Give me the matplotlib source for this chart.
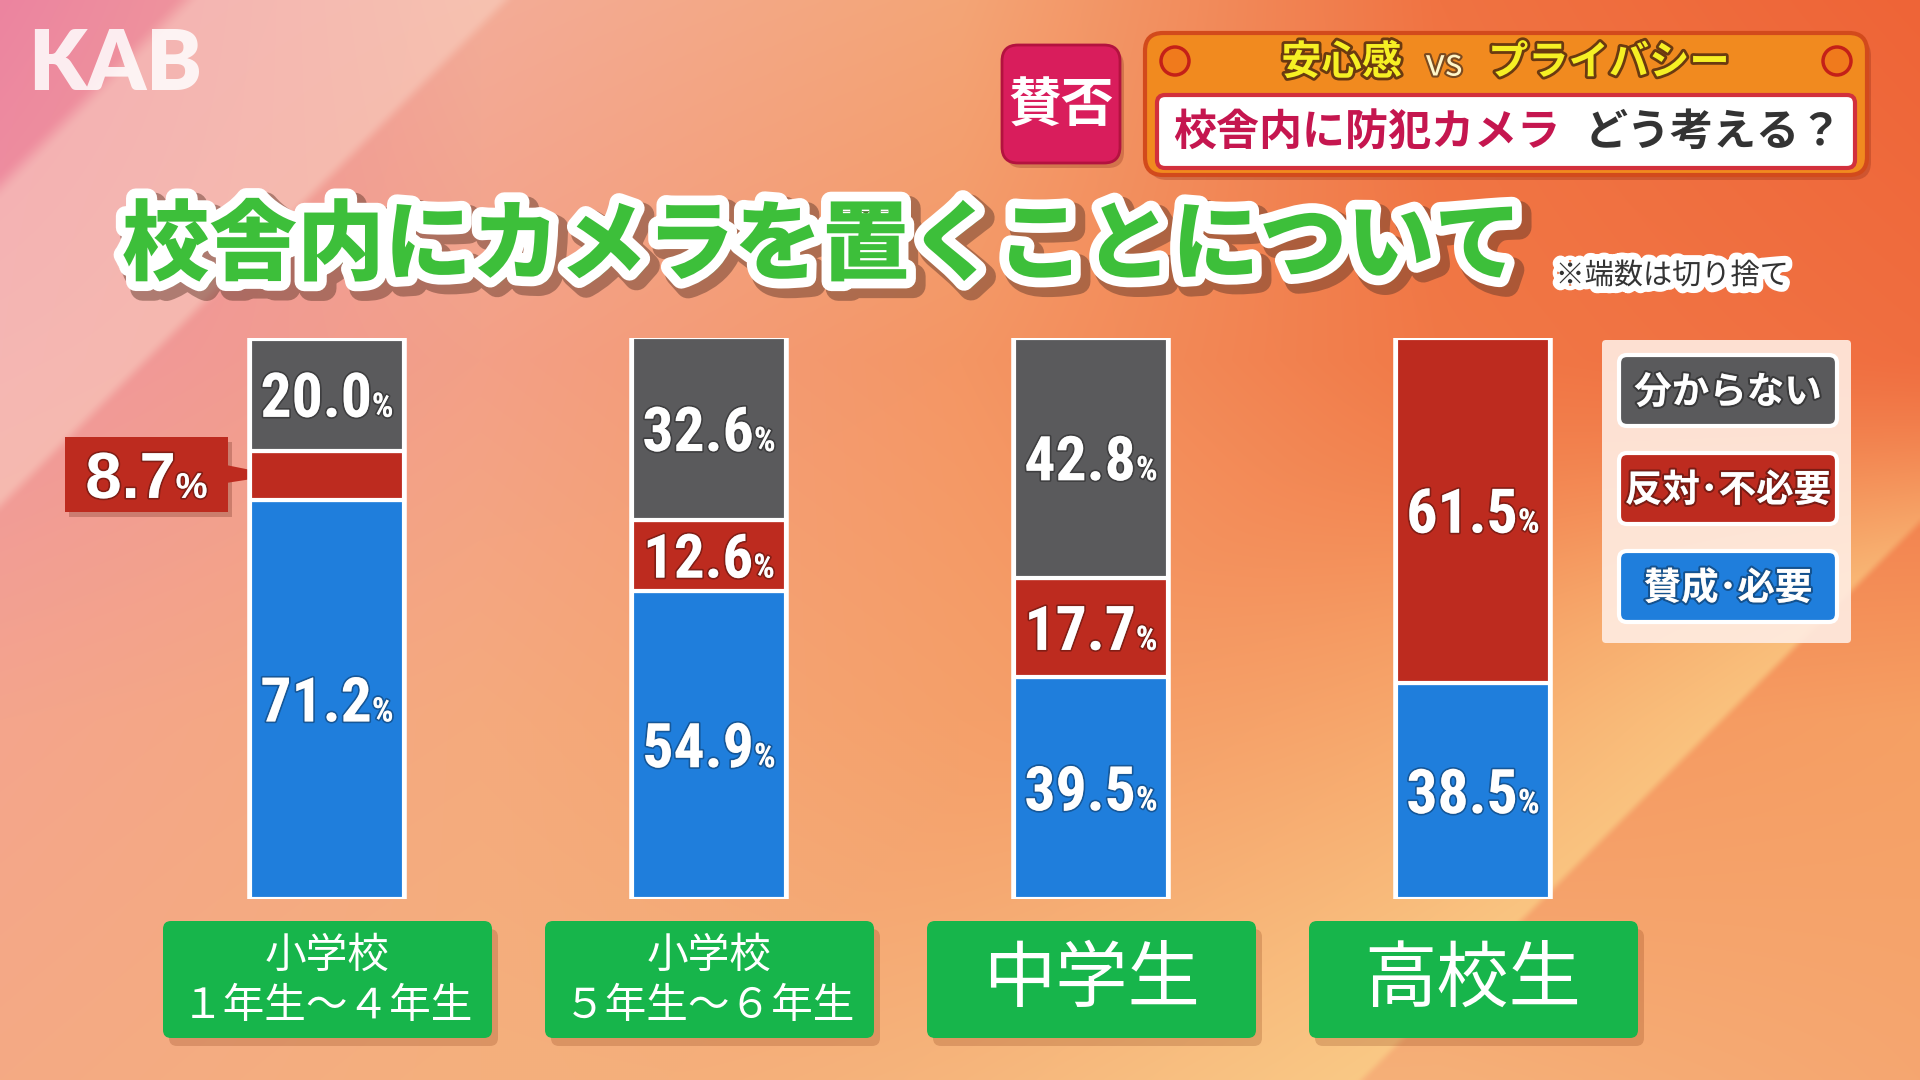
import numpy as np
import matplotlib
matplotlib.use("Agg")
import matplotlib.pyplot as plt
from matplotlib import font_manager as fm
from matplotlib.patches import FancyBboxPatch, Circle, Polygon
from matplotlib.transforms import offset_copy
import matplotlib.patheffects as pe

# ---------------- data ----------------
categories = ["小学校\n１年生〜４年生", "小学校\n５年生〜６年生", "中学生", "高校生"]
series_names = ["分からない", "反対･不必要", "賛成･必要"]
agree = [71.2, 54.9, 39.5, 38.5]
oppose = [8.7, 12.6, 17.7, 61.5]
unknown = [20.0, 32.6, 42.8, 0.0]
title = "校舎内にカメラを置くことについて"
note = "※端数は切り捨て"

# ---------------- style ----------------
BLUE = "#1F7EDC"
RED = "#BD2B1F"
GRAY = "#5A5A5C"
GREEN = "#17B54B"
DPI = 100
CAP = 0.72
JP = ["Noto Sans CJK JP", "DejaVu Sans"]

avail = {f.name for f in fm.fontManager.ttflist}
num_family = None
for cand in ["Roboto Condensed", "Liberation Sans Narrow", "DejaVu Sans Condensed",
             "Open Sans Condensed"]:
    if cand in avail:
        num_family = cand
        break
if num_family:
    NUM_PROPS = dict(family=num_family, weight="bold")
else:
    NUM_PROPS = dict(family="DejaVu Sans", weight="bold", stretch="condensed")
WIDE_PROPS = dict(family="Liberation Sans" if "Liberation Sans" in avail else "DejaVu Sans",
                  weight="bold")
LOGO_FAMILY = "Lato" if "Lato" in avail else "DejaVu Sans"

fig = plt.figure(figsize=(19.2, 10.8), dpi=DPI)
renderer = fig.canvas.get_renderer()

# overlay axes in pixel coordinates (origin top-left)
ov = fig.add_axes([0, 0, 1, 1], zorder=1)
ov.axis("off")

# ---------------- background ----------------
gx = np.array([0, 480, 960, 1440, 1920])
gy = np.array([0, 360, 720, 1080])
C = np.array([
    [[236, 132, 160], [243, 172, 152], [244, 165, 118], [240, 115, 66], [238, 100, 55]],
    [[240, 150, 158], [243, 160, 135], [244, 150, 100], [241, 120, 70], [240, 110, 64]],
    [[244, 165, 140], [245, 170, 125], [245, 160, 106], [245, 150, 96], [246, 160, 100]],
    [[245, 170, 132], [245, 176, 125], [245, 174, 120], [246, 176, 120], [245, 166, 112]],
], dtype=float)
W, H = 960, 540
xs = np.linspace(0, 1920, W)
ys = np.linspace(0, 1080, H)
img = np.zeros((H, W, 3))
for c in range(3):
    rows = np.array([np.interp(xs, gx, C[r, :, c]) for r in range(4)])
    for j in range(W):
        img[:, j, c] = np.interp(ys, gy, rows[:, j])
X, Y = np.meshgrid(xs, ys)
S = X + Y


def smooth(a, b, v):
    t = np.clip((v - a) / (b - a), 0, 1)
    return t * t * (3 - 2 * t)


bandA = smooth(170, 200, S) * (1 - smooth(495, 515, S))
wA = 0.5 * bandA[..., None]
img = img * (1 - wA) + np.array([250, 215, 200]) * wA
bandB = np.clip((S - 1750) / (2440 - 1750), 0, 1) ** 1.4 * (1 - smooth(2436, 2450, S)) * smooth(350, 650, Y)
wB = 0.65 * bandB[..., None]
img = img * (1 - wB) + np.array([252, 214, 140]) * wB
ov.imshow(np.clip(img / 255, 0, 1), extent=(0, 1920, 1080, 0), aspect="auto",
          interpolation="bilinear", zorder=0)
ov.set_xlim(0, 1920)
ov.set_ylim(1080, 0)

# ---------------- bar axes ----------------
spacing = 382.0
c0 = 327.0
top_px, bot_px = 338.0, 899.0
ax = fig.add_axes([0, (1080 - bot_px) / 1080, 1, (bot_px - top_px) / 1080], zorder=2)
ax.set_xlim(-c0 / spacing, (1920 - c0) / spacing)
ax.set_ylim(0, 100)
ax.axis("off")

x = np.arange(len(categories))
agree_a = np.array(agree)
oppose_a = np.array(oppose)
unknown_a = np.array(unknown)
totals = agree_a + oppose_a + unknown_a
bw = 0.405

ax.bar(x, totals, width=bw, color="white", edgecolor="white", linewidth=4, zorder=1)
ax.bar(x, agree_a, width=bw, color=BLUE, edgecolor="white", linewidth=3, zorder=2)
ax.bar(x, oppose_a, width=bw, bottom=agree_a, color=RED, edgecolor="white", linewidth=3, zorder=2)
mask = unknown_a > 0
ax.bar(x[mask], unknown_a[mask], width=bw, bottom=(agree_a + oppose_a)[mask], color=GRAY,
       edgecolor="white", linewidth=3, zorder=2)


def measure(s, fs, props):
    t = fig.text(0, 0, s, fontsize=fs, **props)
    w = t.get_window_extent(renderer).width
    t.remove()
    return w


def pct_label(axis, xd, yd, num, width_px, cap_max_px, props, color="white", shadow=True):
    w100 = measure(num, 100, props) + measure("%", 55, props)
    fs = 100 * width_px / w100
    fs = min(fs, cap_max_px / CAP / (DPI / 72))
    w1 = measure(num, fs, props)
    w2 = measure("%", fs * 0.55, props)
    total = w1 + w2
    cap_px = CAP * fs * DPI / 72
    eff = [pe.Stroke(linewidth=2.5, foreground=(0, 0, 0, 0.3)), pe.Normal()] if shadow else None
    base = axis.transData
    axis.text(xd, yd, num, fontsize=fs, color=color, ha="left", va="baseline",
              transform=offset_copy(base, fig=fig, x=-total / 2, y=-cap_px / 2, units="dots"),
              path_effects=eff, zorder=5, **props)
    axis.text(xd, yd, "%", fontsize=fs * 0.55, color=color, ha="left", va="baseline",
              transform=offset_copy(base, fig=fig, x=-total / 2 + w1, y=-cap_px / 2, units="dots"),
              path_effects=eff, zorder=5, **props)


px_per_unit = (bot_px - top_px) / 100.0
for i in range(len(categories)):
    segs = [(agree[i], 0.0), (oppose[i], agree[i]), (unknown[i], agree[i] + oppose[i])]
    for k, (v, b) in enumerate(segs):
        if v <= 0:
            continue
        if i == 0 and k == 1:
            continue  # small segment labelled by callout
        seg_px = v * px_per_unit
        cap_max = min(88, 0.62 * seg_px)
        pct_label(ax, x[i], b + v / 2, f"{v:.1f}", 133, cap_max, NUM_PROPS)


def to_ov(xd, yd):
    disp = ax.transData.transform((xd, yd))
    return ov.transData.inverted().transform(disp)


# ---------------- callout for small segment ----------------
box_l, box_t, box_w, box_h = 65, 437, 163, 75
ov.add_patch(FancyBboxPatch((box_l + 4, box_t + 5), box_w, box_h, boxstyle="square,pad=0",
                            fc=(0.35, 0.1, 0.05, 0.25), ec="none", zorder=3))
tip = to_ov(x[0] - bw / 2 + 0.07, agree[0] + oppose[0] / 2)
ov.add_patch(Polygon([(box_l + box_w - 2, box_t + 28), (box_l + box_w - 2, box_t + 46), tuple(tip)],
                     closed=True, fc=RED, ec="none", zorder=3))
ov.add_patch(FancyBboxPatch((box_l, box_t), box_w, box_h, boxstyle="square,pad=0",
                            fc=RED, ec="none", zorder=4))
pct_label(ov, box_l + box_w / 2, box_t + box_h / 2, f"{oppose[0]:.1f}", 122, 54, WIDE_PROPS)

# ---------------- category boxes ----------------
for i, cat in enumerate(categories):
    cx = to_ov(x[i], 0)[0]
    bx, by, bwid, bh = cx - 164, 921, 329, 117
    ov.add_patch(FancyBboxPatch((bx + 6, by + 8), bwid, bh, boxstyle="round,pad=0,rounding_size=8",
                                fc=(0.5, 0.2, 0.05, 0.22), ec="none", zorder=3))
    ov.add_patch(FancyBboxPatch((bx, by), bwid, bh, boxstyle="round,pad=0,rounding_size=8",
                                fc=GREEN, ec="none", zorder=4))
    if "\n" in cat:
        ov.text(cx, by + bh / 2 + 2, cat, ha="center", va="center", fontsize=30, color="white",
                family=JP, linespacing=1.3, zorder=5)
    else:
        ov.text(cx, by + bh / 2 + 1, cat, ha="center", va="center", fontsize=52, color="white",
                family=JP, zorder=5)

# ---------------- legend ----------------
ov.add_patch(FancyBboxPatch((1602, 340), 249, 303, boxstyle="round,pad=0,rounding_size=4",
                            fc=(1.0, 0.93, 0.89, 0.9), ec="none", zorder=3))
for (name, col, top) in zip(series_names, [GRAY, RED, BLUE], [355, 453, 551]):
    ov.add_patch(FancyBboxPatch((1619, top), 218, 71, boxstyle="round,pad=0,rounding_size=8",
                                fc=col, ec="white", linewidth=3, zorder=4))
    ov.text(1728, top + 37, name, ha="center", va="center", fontsize=27, color="white",
            family=JP, weight="bold", zorder=5,
            path_effects=[pe.Stroke(linewidth=3, foreground=(0, 0, 0, 0.35)), pe.Normal()])

# ---------------- title & note ----------------
ov.text(822, 247, title, ha="center", va="center", fontsize=63, color="#3DBF3A", family=JP,
        weight="heavy", zorder=5,
        path_effects=[pe.Stroke(linewidth=18, foreground=(0.35, 0.2, 0.15, 0.45), offset=(5, -5)),
                      pe.Stroke(linewidth=14, foreground="white"), pe.Normal()])
ov.text(1672, 276, note, ha="center", va="center", fontsize=21, color="#333333", family=JP,
        zorder=5, path_effects=[pe.Stroke(linewidth=10, foreground="white"), pe.Normal()])

# ---------------- logo ----------------
ov.text(28, 66, "KAB", ha="left", va="center", fontsize=60, color=(1, 1, 1, 0.85),
        family=LOGO_FAMILY, weight="heavy", zorder=5)

# ---------------- header ----------------
ov.add_patch(FancyBboxPatch((1006, 50), 118, 118, boxstyle="round,pad=0,rounding_size=16",
                            fc=(0.45, 0.1, 0.05, 0.25), ec="none", zorder=3))
ov.add_patch(FancyBboxPatch((1002, 45), 118, 118, boxstyle="round,pad=0,rounding_size=16",
                            fc="#D91D5C", ec="#B3123F", linewidth=2, zorder=4))
ov.text(1061, 106, "賛否", ha="center", va="center", fontsize=38, color="white", family=JP,
        weight="bold", zorder=5)

ov.add_patch(FancyBboxPatch((1149, 38), 722, 142, boxstyle="round,pad=0,rounding_size=18",
                            fc=(0.45, 0.1, 0.05, 0.25), ec="none", zorder=3))
ov.add_patch(FancyBboxPatch((1145, 33), 722, 142, boxstyle="round,pad=0,rounding_size=18",
                            fc="#F18A1F", ec="#D24A1C", linewidth=3, zorder=4))
ov.add_patch(FancyBboxPatch((1157, 95), 698, 73, boxstyle="round,pad=0,rounding_size=8",
                            fc="white", ec="#D2303C", linewidth=3, zorder=5))
for cxp in (1175, 1837):
    ov.add_patch(Circle((cxp, 61), 14, fc="#F07A1C", ec="#C42018", linewidth=2.5, zorder=5))
yel_fx = [pe.Stroke(linewidth=4, foreground="#6A3A10"), pe.Normal()]
ov.text(1402, 63, "安心感", ha="right", va="center", fontsize=29, color="#F6F024", family=JP,
        weight="bold", zorder=6, path_effects=yel_fx)
ov.text(1444, 65, "vs", ha="center", va="center", fontsize=27, color="#FFF6C8", family=JP,
        zorder=6, path_effects=[pe.Stroke(linewidth=3, foreground="#7A4A20"), pe.Normal()])
ov.text(1488, 63, "プライバシー", ha="left", va="center", fontsize=29, color="#F6F024", family=JP,
        weight="bold", zorder=6, path_effects=yel_fx)
ov.text(1173, 132, "校舎内に防犯カメラ", ha="left", va="center", fontsize=31, color="#C5164F",
        family=JP, weight="bold", zorder=6)
ov.text(1843, 132, "どう考える？", ha="right", va="center", fontsize=31, color="#333333",
        family=JP, weight="bold", zorder=6)

fig.savefig("out.png", dpi=DPI)
